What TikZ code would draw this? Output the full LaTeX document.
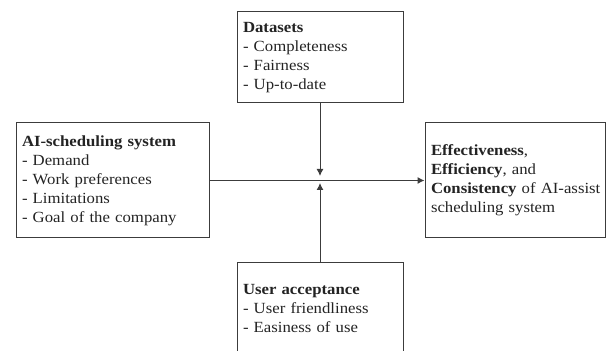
\documentclass[tikz,border=0pt]{standalone}
\usepackage{fontspec}
\setmainfont{Liberation Serif}[FakeStretch=1.08]
\usetikzlibrary{arrows.meta}
\definecolor{linegray}{RGB}{60,60,60}
\definecolor{textgray}{RGB}{35,35,35}
\begin{document}
\begin{tikzpicture}[x=1pt, y=1pt,
  box/.style={draw=linegray, line width=1pt, align=left, inner sep=6pt,
    text=textgray, font=\fontsize{15.5}{19}\selectfont},
  link/.style={draw=linegray, line width=1pt, -{Latex[length=7pt, width=7pt]}}]
\useasboundingbox (0,0) rectangle (606,351);
\clip (0,0) rectangle (606,351);
% boxes
\node[box, minimum width=166pt, minimum height=91pt, text width=154pt] (data) at (320,293.5)
  {\textbf{Datasets}\\- Completeness\\- Fairness\\- Up-to-date};
\node[box, minimum width=193pt, minimum height=115pt, text width=181pt] (sys) at (112.5,170.5)
  {\textbf{AI-scheduling system}\\- Demand\\- Work preferences\\- Limitations\\- Goal of the company};
\node[box, minimum width=180pt, minimum height=115pt, text width=168pt] (eff) at (515,170.5)
  {\textbf{Effectiveness},\\\textbf{Efficiency}, and\\\mbox{\textbf{Consistency} of AI-assist}\\scheduling system};
\node[box, minimum width=166pt, minimum height=92pt, text width=154pt] (user) at (320,42)
  {\textbf{User acceptance}\\- User friendliness\\- Easiness of use};
% arrows
\coordinate (down) at (320,175);
\coordinate (up) at (320,168);
\draw[link] (sys.east) -- (eff.west);
\draw[link] (data.south) -- (down);
\draw[link] (user.north) -- (up);
\end{tikzpicture}
\end{document}
